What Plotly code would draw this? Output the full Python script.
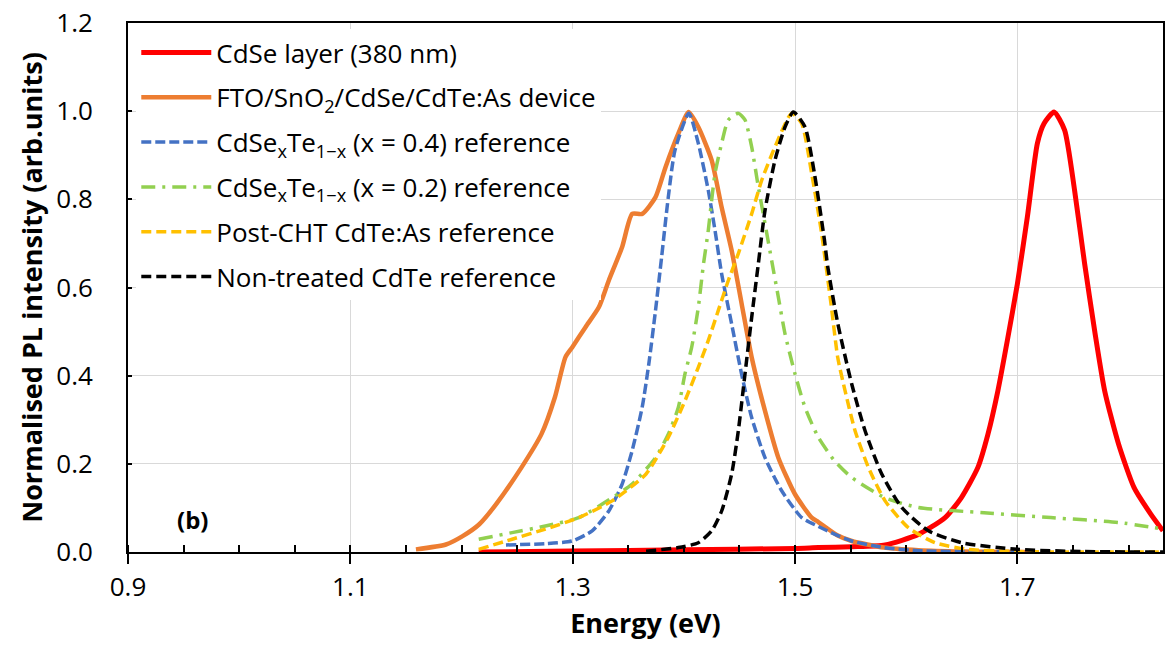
import plotly.graph_objects as go

# ---- data ----
cdse_E = [1.2155, 1.30, 1.40, 1.50, 1.521, 1.551, 1.581, 1.611, 1.635, 1.6495, 1.6645, 1.6735,
          1.6825, 1.691, 1.700, 1.709, 1.718, 1.724, 1.733, 1.7425, 1.7515, 1.7605, 1.7695,
          1.7785, 1.791, 1.805, 1.820, 1.831]
cdse_I = [0.0, 0.002, 0.005, 0.008, 0.010, 0.012, 0.016, 0.040, 0.078, 0.123, 0.192, 0.267,
          0.366, 0.480, 0.608, 0.760, 0.927, 0.972, 0.998, 0.957, 0.820, 0.654, 0.502,
          0.366, 0.245, 0.146, 0.086, 0.048]

dev_E = [1.159, 1.186, 1.201, 1.216, 1.231, 1.254, 1.272, 1.284, 1.2935, 1.2995, 1.3115, 1.3235,
         1.3325, 1.3445, 1.3535, 1.3625, 1.3745, 1.3835, 1.395, 1.4043, 1.413, 1.425, 1.434,
         1.443, 1.452, 1.461, 1.473, 1.485, 1.500, 1.515, 1.521, 1.538, 1.551, 1.580, 1.611,
         1.650, 1.700, 1.712]
dev_I = [0.006, 0.017, 0.036, 0.063, 0.108, 0.192, 0.268, 0.351, 0.442, 0.464, 0.510, 0.555,
         0.616, 0.692, 0.767, 0.767, 0.805, 0.873, 0.949, 0.998, 0.964, 0.889, 0.782,
         0.684, 0.563, 0.442, 0.320, 0.214, 0.131, 0.078, 0.068, 0.038, 0.025, 0.010, 0.004,
         0.001, 0.0, 0.0]

x04_E = [1.240, 1.276, 1.2995, 1.3175, 1.3325, 1.3445, 1.3535, 1.3625, 1.3685, 1.3745, 1.380,
         1.386, 1.392, 1.4045, 1.413, 1.422, 1.428, 1.434, 1.443, 1.452, 1.461, 1.473, 1.488,
         1.506, 1.521, 1.536, 1.551, 1.580, 1.611, 1.650, 1.700]
x04_I = [0.016, 0.019, 0.025, 0.048, 0.093, 0.154, 0.230, 0.328, 0.427, 0.548, 0.669,
         0.805, 0.911, 0.995, 0.927, 0.820, 0.730, 0.631, 0.517, 0.403, 0.305, 0.214, 0.139,
         0.078, 0.058, 0.040, 0.025, 0.010, 0.003, 0.001, 0.0]

x02_E = [1.2155, 1.2455, 1.2755, 1.3055, 1.3355, 1.3535, 1.3745, 1.386, 1.395, 1.401, 1.407,
         1.413, 1.4177, 1.422, 1.425, 1.428, 1.434, 1.440, 1.449, 1.455, 1.461, 1.467, 1.473,
         1.479, 1.485, 1.491, 1.500, 1.509, 1.521, 1.5355, 1.551, 1.581, 1.611, 1.670, 1.730,
         1.791, 1.831]
x02_I = [0.029, 0.044, 0.059, 0.078, 0.123, 0.154, 0.214, 0.267, 0.328, 0.404, 0.464,
         0.555, 0.654, 0.730, 0.798, 0.858, 0.927, 0.980, 0.995, 0.980, 0.919, 0.828, 0.745,
         0.661, 0.578, 0.495, 0.404, 0.328, 0.260, 0.207, 0.169, 0.123, 0.101, 0.089, 0.078,
         0.067, 0.052]

cht_E = [1.2155, 1.2455, 1.2755, 1.3055, 1.3355, 1.366, 1.386, 1.401, 1.413, 1.422, 1.431,
         1.440, 1.449, 1.461, 1.470, 1.482, 1.497, 1.506, 1.515, 1.5238, 1.5325, 1.5385,
         1.545, 1.554, 1.566, 1.581, 1.602, 1.626, 1.656, 1.700, 1.760, 1.831]
cht_I = [0.006, 0.029, 0.052, 0.078, 0.116, 0.177, 0.260, 0.343, 0.419, 0.480, 0.548,
         0.616, 0.677, 0.767, 0.843, 0.919, 0.995, 0.972, 0.858, 0.725, 0.560, 0.440,
         0.366, 0.275, 0.192, 0.116, 0.055, 0.021, 0.006, 0.001, 0.0, 0.0]

nt_E = [1.366, 1.395, 1.413, 1.425, 1.434, 1.443, 1.449, 1.455, 1.461, 1.467, 1.473, 1.482,
        1.491, 1.4985, 1.509, 1.5175, 1.5265, 1.5295, 1.5385, 1.551, 1.563, 1.578, 1.596,
        1.620, 1.650, 1.700, 1.760, 1.831]
nt_I = [0.002, 0.010, 0.021, 0.048, 0.093, 0.177, 0.275, 0.404, 0.532, 0.654, 0.775, 0.889,
        0.964, 0.998, 0.964, 0.858, 0.707, 0.646, 0.518, 0.381, 0.275, 0.177, 0.101,
        0.048, 0.021, 0.006, 0.001, 0.0]

names = [
    "CdSe layer (380 nm)",
    "FTO/SnO<sub>2</sub>/CdSe/CdTe:As device",
    "CdSe<sub>x</sub>Te<sub>1\u2212x</sub> (x = 0.4) reference",
    "CdSe<sub>x</sub>Te<sub>1\u2212x</sub> (x = 0.2) reference",
    "Post-CHT CdTe:As reference",
    "Non-treated CdTe reference",
]
x_ticks = [0.9, 1.1, 1.3, 1.5, 1.7]
y_ticks = [0.0, 0.2, 0.4, 0.6, 0.8, 1.0, 1.2]

# ---- styles ----
series = [
    (cdse_E, cdse_I, "#FF0000", 5, "solid"),
    (dev_E, dev_I, "#ED7D31", 4.5, "solid"),
    (x04_E, x04_I, "#4472C4", 3.5, "10px,4px"),
    (x02_E, x02_I, "#92D050", 3.5, "14px,7px,3px,7px"),
    (cht_E, cht_I, "#FFC000", 3.5, "10px,5px"),
    (nt_E, nt_I, "#000000", 3.5, "10px,5px"),
]

fig = go.Figure()
for i, (E, I, col, w, dash) in enumerate(series):
    fig.add_trace(go.Scatter(
        x=E, y=I, mode="lines", name=names[i], legendgroup=f"g{i}",
        line=dict(color=col, width=w, dash=dash, shape="spline", smoothing=0.6),
    ))

FONT = "Open Sans, Liberation Sans, sans-serif"

fig.add_annotation(x=0.958, y=0.074, xref="x", yref="y", text="<b>(b)</b>",
                   showarrow=False, font=dict(family=FONT, size=24, color="#000000"))

fig.update_layout(
    width=1167, height=648,
    margin=dict(l=128, r=2, t=23, b=96),
    paper_bgcolor="white", plot_bgcolor="white",
    font=dict(family=FONT, color="#000000"),
    showlegend=True,
    legend=dict(
        x=0.008, y=0.9885, xanchor="left", yanchor="top",
        bgcolor="white", borderwidth=0,
        font=dict(family=FONT, size=26, color="#000000"),
        tracegroupgap=8, itemwidth=70, traceorder="grouped",
    ),
    xaxis=dict(
        range=[0.9, 1.831], tickvals=x_ticks, ticktext=[f"{v:.1f}" for v in x_ticks],
        showgrid=True, gridcolor="#D9D9D9", gridwidth=1.2,
        showline=True, linecolor="#000000", linewidth=1.8, mirror=True,
        ticks="outside", ticklen=10, tickwidth=1.5, tickcolor="#000000",
        minor=dict(dtick=0.05, tick0=0.9, ticks="inside", ticklen=7, tickwidth=1.5,
                   tickcolor="#000000", showgrid=False),
        tickfont=dict(family=FONT, size=26), ticklabelstandoff=1,
        title=dict(text="<b>Energy (eV)</b>", font=dict(family=FONT, size=27), standoff=10),
        zeroline=False,
    ),
    yaxis=dict(
        range=[0, 1.2], tickvals=y_ticks, ticktext=[f"{v:.1f}" for v in y_ticks],
        showgrid=True, gridcolor="#D9D9D9", gridwidth=1.2,
        showline=True, linecolor="#000000", linewidth=1.8, mirror=True,
        ticks="inside", ticklen=4, tickwidth=1.5, tickcolor="#000000",
        tickfont=dict(family=FONT, size=26), ticklabelstandoff=28,
        title=dict(text="<b>Normalised PL intensity (arb.units)</b>",
                   font=dict(family=FONT, size=27), standoff=6),
        zeroline=False,
    ),
)

fig.write_html("out.html")
